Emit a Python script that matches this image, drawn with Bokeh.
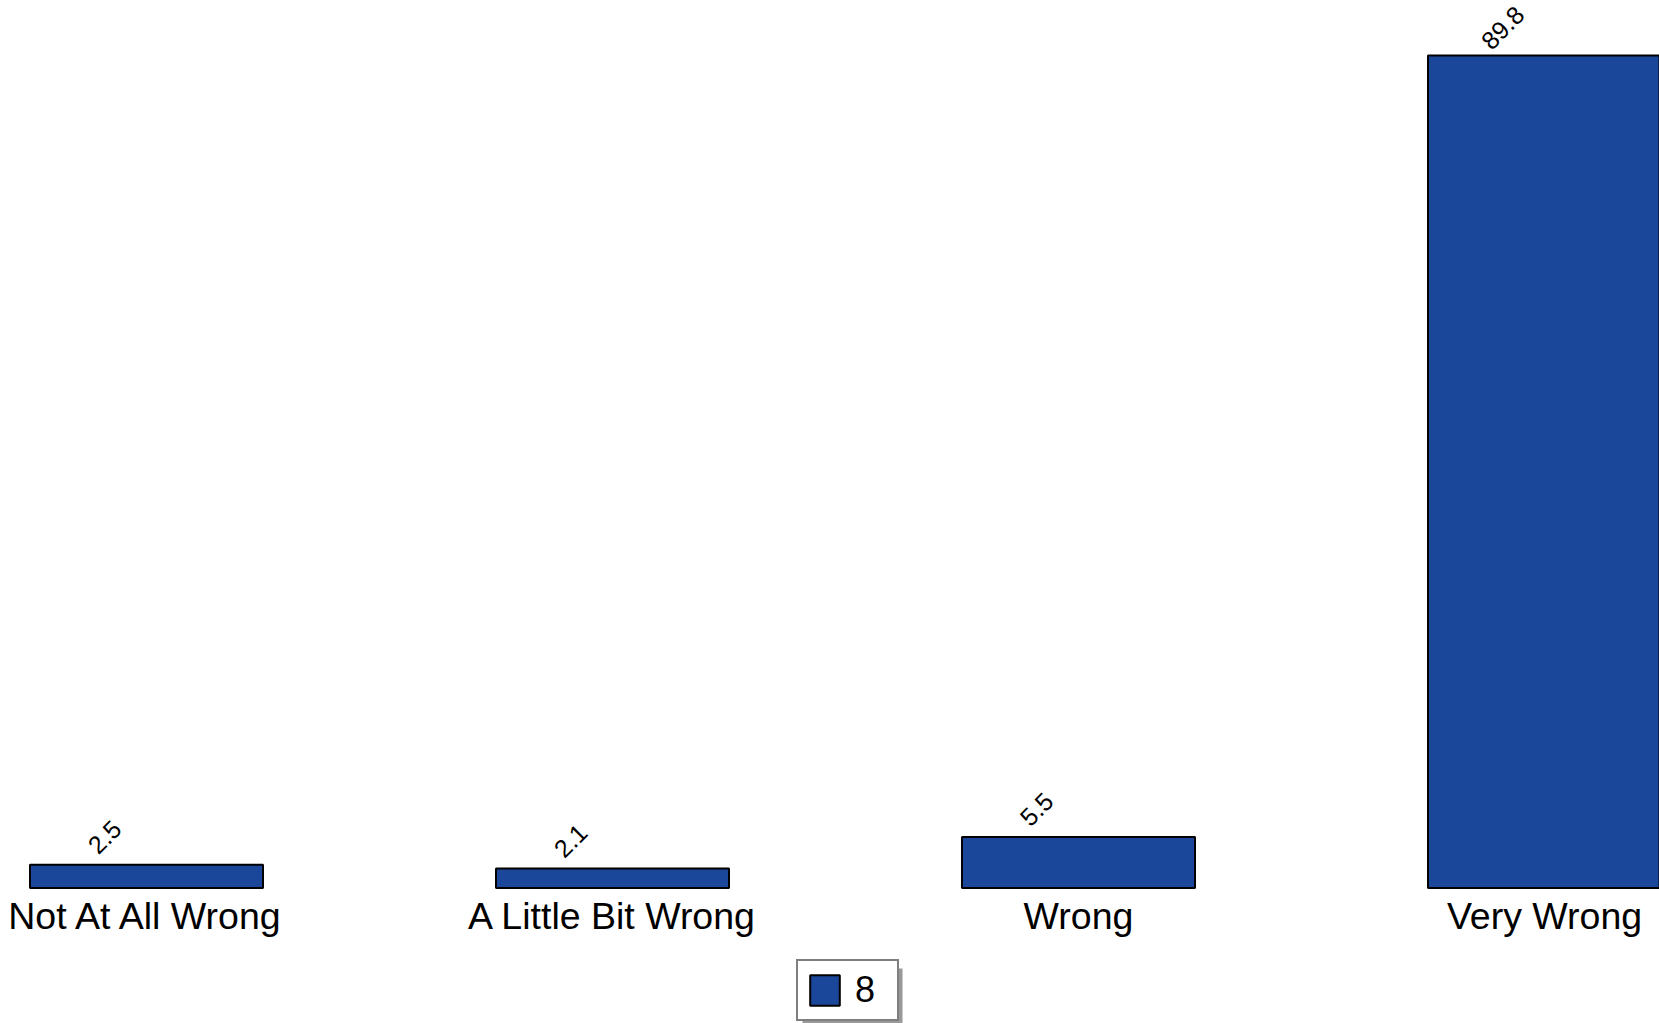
import math
from bokeh.plotting import figure
from bokeh.models import ColumnDataSource, Range1d, Legend, LegendItem
from bokeh.core.properties import value
from bokeh.embed import file_html
from bokeh.resources import INLINE

# ---- data ----
categories = ["Not At All Wrong", "A Little Bit Wrong", "Wrong", "Very Wrong"]
values = [2.5, 2.1, 5.5, 89.8]
series_name = "8"

BLUE = "#1a479a"
FONT = "Liberation Sans"

W, H = 1659, 1023
# layout helpers (screen px on page -> data)
X0_PX, DX_PX = 146.0, 466.0     # center of first category, spacing
BASE_PX, DY_PX = 887.5, 9.27    # baseline page y, px per unit
PAGE_OFF = 0

def xd(px):
    return (px - X0_PX) / DX_PX

def yd(py):
    return (BASE_PX - py) / DY_PX

x_range = Range1d(xd(PAGE_OFF), xd(PAGE_OFF + W))
y_range = Range1d(yd(PAGE_OFF + H), yd(PAGE_OFF))

p = figure(width=W, height=H, x_range=x_range, y_range=y_range,
           output_backend="svg", toolbar_location=None,
           x_axis_location=None, y_axis_location=None,
           min_border=0, min_border_left=0, min_border_right=0,
           min_border_top=0, min_border_bottom=0)
p.outline_line_color = None
p.grid.visible = False
p.background_fill_color = "white"
p.border_fill_color = "white"

xs = list(range(len(categories)))
src = ColumnDataSource(dict(
    x=xs, top=values, cat=categories,
    lab=[f"{v:.1f}" for v in values],
    zero=[0] * len(values),
))

# legend shadow (decoration)
lg_left, lg_right, lg_top, lg_bottom = 796, 896, 962, 1021
sh = 6
p.quad(left=[xd(lg_left + sh)], right=[xd(lg_right + sh)],
       top=[yd(lg_top + sh)], bottom=[yd(lg_bottom + sh)],
       fill_color="#999999", line_color=None)

bars = p.vbar(x="x", top="top", bottom=0, width=0.5, source=src,
              fill_color=BLUE, line_color="black", line_width=2)

p.text(x="x", y="top", text="lab", source=src, angle=math.pi / 4,
       x_offset=-42, y_offset=-28, text_align="center",
       text_baseline="middle", text_font=value(FONT),
       text_font_size="25px", text_color="black")

p.text(x="x", y="zero", text="cat", source=src, y_offset=28,
       text_align="center", text_baseline="middle",
       text_font=value(FONT), text_font_size="37.5px", text_color="black")

legend = Legend(items=[LegendItem(label=series_name, renderers=[bars])],
                location=(lg_left - PAGE_OFF, PAGE_OFF + H - lg_bottom),
                orientation="vertical", padding=8, spacing=0, margin=0,
                glyph_width=37, glyph_height=38, label_standoff=12,
                label_width=34,
                label_text_font=FONT, label_text_font_size="36px",
                label_text_baseline="middle", label_text_color="black",
                border_line_color="black", border_line_width=2,
                background_fill_color="white", background_fill_alpha=1.0)
p.add_layout(legend, "center")

open("out.html", "w").write(file_html(p, INLINE))
